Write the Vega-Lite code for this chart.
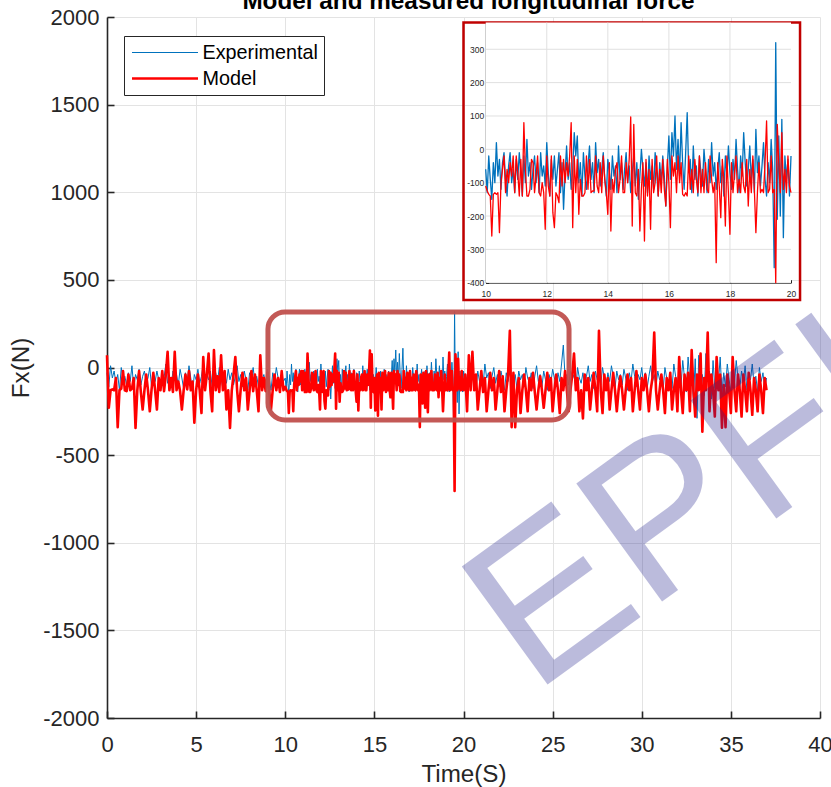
{
"$schema": "https://vega.github.io/schema/vega-lite/v6.json",
"width": 713, "height": 701,
"autosize": {"type": "none"},
"padding": {"left": 107, "top": 17, "right": 11, "bottom": 69},
"background": "white",
"title": {"text": "Model and measured longitudinal force", "fontSize": 24.3, "fontWeight": "bold", "font": "Liberation Sans", "color": "#000000", "anchor": "middle", "frame": "group", "baseline": "alphabetic", "offset": -1.3, "dx": 5, "dy": 25.5},
"config": {
  "view": {"stroke": null},
  "font": "Liberation Sans",
  "legend": {"orient": "none", "legendX": 17, "legendY": 19, "strokeColor": "#262626", "fillColor": "#ffffff", "padding": 6, "rowPadding": 4, "labelFontSize": 19.8, "labelColor": "#000000", "symbolType": "M-3.3,0H3.3", "symbolSize": 400, "symbolOffset": 23.5, "labelOffset": 26, "cornerRadius": 0}
},
"datasets": {
"force": [
{"t":0,"E":-30,"M":70},{"t":0.1,"E":-110,"M":-230},{"t":0.2,"E":10,"M":-130},{"t":0.3,"E":-60,"M":-125},{"t":0.4,"E":-20,"M":-130},{"t":0.5,"E":-90,"M":-60},{"t":0.6,"E":-40,"M":-340},{"t":0.7,"E":-130,"M":-130},{"t":0.8,"E":0,"M":-120},{"t":0.9,"E":-70,"M":-20},
{"t":1,"E":-50,"M":-130},{"t":1.1,"E":-100,"M":-135},{"t":1.2,"E":-30,"M":-40},{"t":1.3,"E":-80,"M":-130},{"t":1.4,"E":10,"M":-120},{"t":1.5,"E":-120,"M":-60},{"t":1.6,"E":-40,"M":-345},{"t":1.7,"E":-70,"M":-130},{"t":1.8,"E":-10,"M":-20},{"t":1.9,"E":-100,"M":-140},
{"t":2,"E":-50,"M":-240},{"t":2.1,"E":-20,"M":-130},{"t":2.2,"E":-90,"M":-40},{"t":2.3,"E":-60,"M":-130},{"t":2.4,"E":0,"M":-250},{"t":2.5,"E":-110,"M":-125},{"t":2.6,"E":-40,"M":-30},{"t":2.7,"E":-80,"M":-130},{"t":2.8,"E":-20,"M":-240},{"t":2.9,"E":-70,"M":-60},
{"t":3,"E":-130,"M":-130},{"t":3.1,"E":-30,"M":-20},{"t":3.2,"E":-60,"M":-135},{"t":3.3,"E":20,"M":-40},{"t":3.4,"E":-90,"M":90},{"t":3.5,"E":-50,"M":-130},{"t":3.6,"E":-110,"M":-60},{"t":3.7,"E":-20,"M":-140},{"t":3.8,"E":-70,"M":90},{"t":3.9,"E":-40,"M":-130},
{"t":4,"E":-100,"M":-80},{"t":4.1,"E":-10,"M":-135},{"t":4.2,"E":-60,"M":-240},{"t":4.3,"E":-120,"M":-130},{"t":4.4,"E":-30,"M":-40},{"t":4.5,"E":-80,"M":-125},{"t":4.6,"E":10,"M":-20},{"t":4.7,"E":-60,"M":-130},{"t":4.8,"E":-140,"M":-80},{"t":4.9,"E":-40,"M":-315},
{"t":5,"E":-70,"M":-130},{"t":5.1,"E":-10,"M":-40},{"t":5.2,"E":-90,"M":-130},{"t":5.3,"E":-50,"M":-260},{"t":5.4,"E":20,"M":60},{"t":5.5,"E":-100,"M":-130},{"t":5.6,"E":-40,"M":-40},{"t":5.7,"E":-70,"M":80},{"t":5.8,"E":-20,"M":-130},{"t":5.9,"E":-110,"M":-250},
{"t":6,"E":-60,"M":100},{"t":6.1,"E":-30,"M":-130},{"t":6.2,"E":-80,"M":-50},{"t":6.3,"E":0,"M":-140},{"t":6.4,"E":-60,"M":70},{"t":6.5,"E":-120,"M":-130},{"t":6.6,"E":-40,"M":-20},{"t":6.7,"E":-90,"M":-240},{"t":6.8,"E":-10,"M":-130},{"t":6.9,"E":-70,"M":-345},
{"t":7,"E":-30,"M":-130},{"t":7.1,"E":-100,"M":-40},{"t":7.2,"E":-50,"M":60},{"t":7.3,"E":10,"M":-130},{"t":7.4,"E":-80,"M":-250},{"t":7.5,"E":-40,"M":-125},{"t":7.6,"E":-110,"M":-30},{"t":7.7,"E":-20,"M":-130},{"t":7.8,"E":-70,"M":-60},{"t":7.9,"E":-130,"M":-240},
{"t":8,"E":-30,"M":-130},{"t":8.1,"E":-60,"M":-20},{"t":8.2,"E":0,"M":-135},{"t":8.3,"E":-90,"M":-40},{"t":8.4,"E":-50,"M":-130},{"t":8.5,"E":-110,"M":-250},{"t":8.6,"E":-20,"M":70},{"t":8.7,"E":-70,"M":-130},{"t":8.8,"E":-40,"M":-60},{"t":8.9,"E":-100,"M":-135},
{"t":9,"E":-10,"M":-30},{"t":9.1,"E":-60,"M":-130},{"t":9.2,"E":-130,"M":-240},{"t":9.3,"E":-30,"M":-125},{"t":9.4,"E":-80,"M":-40},{"t":9.5,"E":0,"M":-130},{"t":9.6,"E":-60,"M":-60},{"t":9.7,"E":-110,"M":-140},{"t":9.8,"E":-40,"M":-20},{"t":9.9,"E":-80,"M":-130},
{"t":10,"E":-60,"M":-110},{"t":10.05,"E":-130,"M":-125},{"t":10.1,"E":-20,"M":-135},{"t":10.15,"E":-90,"M":-140},{"t":10.2,"E":-150,"M":-260},{"t":10.25,"E":-40,"M":-135},{"t":10.3,"E":-100,"M":-130},{"t":10.35,"E":20,"M":-135},{"t":10.4,"E":-80,"M":-130},{"t":10.45,"E":-30,"M":-250},
{"t":10.5,"E":-120,"M":-100},{"t":10.55,"E":-40,"M":-60},{"t":10.6,"E":-10,"M":-20},{"t":10.65,"E":-90,"M":-130},{"t":10.7,"E":-140,"M":-60},{"t":10.75,"E":-50,"M":-100},{"t":10.8,"E":-10,"M":-40},{"t":10.85,"E":-100,"M":-80},{"t":10.9,"E":-60,"M":-20},{"t":10.95,"E":-130,"M":-130},
{"t":11,"E":-30,"M":-20},{"t":11.05,"E":-90,"M":-70},{"t":11.1,"E":-10,"M":-140},{"t":11.15,"E":-70,"M":-30},{"t":11.2,"E":-140,"M":-140},{"t":11.25,"E":-20,"M":80},{"t":11.3,"E":-100,"M":-60},{"t":11.35,"E":30,"M":-140},{"t":11.4,"E":-80,"M":-140},{"t":11.45,"E":-40,"M":-120},
{"t":11.5,"E":-120,"M":-30},{"t":11.55,"E":-60,"M":-40},{"t":11.6,"E":-20,"M":-130},{"t":11.65,"E":-100,"M":-80},{"t":11.7,"E":-40,"M":-20},{"t":11.75,"E":-130,"M":-130},{"t":11.8,"E":-10,"M":-140},{"t":11.85,"E":-80,"M":-100},{"t":11.9,"E":-50,"M":-130},{"t":11.95,"E":-110,"M":-240},
{"t":12,"E":20,"M":-20},{"t":12.05,"E":-70,"M":-110},{"t":12.1,"E":-140,"M":-140},{"t":12.15,"E":-30,"M":-20},{"t":12.2,"E":-90,"M":-190},{"t":12.25,"E":-20,"M":-235},{"t":12.3,"E":-110,"M":-130},{"t":12.35,"E":-60,"M":-140},{"t":12.4,"E":-10,"M":-160},{"t":12.45,"E":-130,"M":-20},
{"t":12.5,"E":-40,"M":-110},{"t":12.55,"E":-180,"M":-30},{"t":12.6,"E":-70,"M":-100},{"t":12.65,"E":10,"M":-40},{"t":12.7,"E":-90,"M":-80},{"t":12.75,"E":-40,"M":-20},{"t":12.8,"E":-120,"M":80},{"t":12.85,"E":-60,"M":-235},{"t":12.9,"E":50,"M":-20},{"t":12.95,"E":-20,"M":-130},
{"t":13,"E":40,"M":-30},{"t":13.05,"E":-100,"M":-195},{"t":13.1,"E":-40,"M":-90},{"t":13.15,"E":-140,"M":-140},{"t":13.2,"E":-10,"M":-140},{"t":13.25,"E":-80,"M":-130},{"t":13.3,"E":-120,"M":-20},{"t":13.35,"E":-50,"M":-120},{"t":13.4,"E":10,"M":-30},{"t":13.45,"E":-90,"M":-130},
{"t":13.5,"E":-40,"M":-125},{"t":13.55,"E":-130,"M":-125},{"t":13.6,"E":20,"M":-20},{"t":13.65,"E":-70,"M":-110},{"t":13.7,"E":-30,"M":-130},{"t":13.75,"E":-110,"M":-40},{"t":13.8,"E":-60,"M":-130},{"t":13.85,"E":-10,"M":-20},{"t":13.9,"E":-90,"M":-90},{"t":13.95,"E":-140,"M":-130},
{"t":14,"E":-30,"M":-195},{"t":14.05,"E":-70,"M":-40},{"t":14.1,"E":-120,"M":-245},{"t":14.15,"E":-20,"M":-90},{"t":14.2,"E":-80,"M":-130},{"t":14.25,"E":-50,"M":-60},{"t":14.3,"E":-130,"M":-40},{"t":14.35,"E":10,"M":-130},{"t":14.4,"E":-90,"M":-90},{"t":14.45,"E":-40,"M":-20},
{"t":14.5,"E":-120,"M":-130},{"t":14.55,"E":-60,"M":-130},{"t":14.6,"E":-10,"M":-40},{"t":14.65,"E":-100,"M":-100},{"t":14.7,"E":-50,"M":-30},{"t":14.75,"E":-130,"M":97},{"t":14.8,"E":-70,"M":-230},{"t":14.85,"E":-20,"M":75},{"t":14.9,"E":-110,"M":-130},{"t":14.95,"E":-40,"M":-140},
{"t":15,"E":-150,"M":-60},{"t":15.05,"E":-80,"M":-245},{"t":15.1,"E":0,"M":-120},{"t":15.15,"E":-60,"M":-40},{"t":15.2,"E":-110,"M":-275},{"t":15.25,"E":-40,"M":-30},{"t":15.3,"E":-130,"M":-140},{"t":15.35,"E":-20,"M":-60},{"t":15.4,"E":-90,"M":-240},{"t":15.45,"E":-50,"M":-30},
{"t":15.5,"E":-120,"M":-130},{"t":15.55,"E":-10,"M":-100},{"t":15.6,"E":-70,"M":-20},{"t":15.65,"E":-140,"M":-140},{"t":15.7,"E":-40,"M":-60},{"t":15.75,"E":-100,"M":-130},{"t":15.8,"E":-20,"M":-30},{"t":15.85,"E":-80,"M":-120},{"t":15.9,"E":-170,"M":-170},{"t":15.95,"E":-50,"M":-30},
{"t":16,"E":40,"M":-100},{"t":16.05,"E":-90,"M":-235},{"t":16.1,"E":50,"M":-20},{"t":16.15,"E":-20,"M":-80},{"t":16.2,"E":100,"M":-40},{"t":16.25,"E":-60,"M":-130},{"t":16.3,"E":30,"M":-20},{"t":16.35,"E":-80,"M":-100},{"t":16.4,"E":80,"M":-40},{"t":16.45,"E":-40,"M":-135},
{"t":16.5,"E":-120,"M":-140},{"t":16.55,"E":-10,"M":-130},{"t":16.6,"E":110,"M":-140},{"t":16.65,"E":-70,"M":-20},{"t":16.7,"E":-30,"M":-120},{"t":16.75,"E":-130,"M":-60},{"t":16.8,"E":10,"M":-130},{"t":16.85,"E":-90,"M":-30},{"t":16.9,"E":-50,"M":-90},{"t":16.95,"E":-140,"M":-130},
{"t":17,"E":-20,"M":-20},{"t":17.05,"E":-70,"M":-130},{"t":17.1,"E":-110,"M":-60},{"t":17.15,"E":0,"M":-130},{"t":17.2,"E":-60,"M":-40},{"t":17.25,"E":-130,"M":-120},{"t":17.3,"E":-30,"M":-130},{"t":17.35,"E":-100,"M":-20},{"t":17.4,"E":20,"M":-90},{"t":17.45,"E":-80,"M":-130},
{"t":17.5,"E":-40,"M":-100},{"t":17.55,"E":-120,"M":-340},{"t":17.6,"E":-60,"M":-40},{"t":17.65,"E":-10,"M":-110},{"t":17.7,"E":-100,"M":-205},{"t":17.75,"E":-50,"M":-30},{"t":17.8,"E":-140,"M":-90},{"t":17.85,"E":-20,"M":-230},{"t":17.9,"E":-80,"M":-20},{"t":17.95,"E":10,"M":-130},
{"t":18,"E":-70,"M":-255},{"t":18.05,"E":-120,"M":-40},{"t":18.1,"E":-30,"M":-130},{"t":18.15,"E":-90,"M":-70},{"t":18.2,"E":30,"M":-20},{"t":18.25,"E":-60,"M":-130},{"t":18.3,"E":-130,"M":-90},{"t":18.35,"E":-20,"M":-130},{"t":18.4,"E":-80,"M":-40},{"t":18.45,"E":50,"M":-110},
{"t":18.5,"E":-40,"M":-130},{"t":18.55,"E":-110,"M":-30},{"t":18.6,"E":-60,"M":-170},{"t":18.65,"E":10,"M":-60},{"t":18.7,"E":-90,"M":-130},{"t":18.75,"E":-30,"M":-20},{"t":18.8,"E":-130,"M":-120},{"t":18.85,"E":60,"M":-250},{"t":18.9,"E":-70,"M":-130},{"t":18.95,"E":-20,"M":-40},
{"t":19,"E":-110,"M":-130},{"t":19.05,"E":-50,"M":-120},{"t":19.1,"E":20,"M":-130},{"t":19.15,"E":-90,"M":-40},{"t":19.2,"E":-140,"M":85},{"t":19.25,"E":-40,"M":-130},{"t":19.3,"E":-100,"M":-120},{"t":19.35,"E":30,"M":-20},{"t":19.4,"E":-60,"M":-130},{"t":19.45,"E":-355,"M":-120},
{"t":19.5,"E":320,"M":-705},{"t":19.55,"E":-210,"M":75},{"t":19.6,"E":40,"M":-40},{"t":19.65,"E":-200,"M":-130},{"t":19.7,"E":90,"M":50},{"t":19.75,"E":-265,"M":-120},{"t":19.8,"E":-20,"M":-60},{"t":19.85,"E":-90,"M":-130},{"t":19.9,"E":-30,"M":-20},{"t":19.95,"E":-140,"M":-110},
{"t":20,"E":-20,"M":-130},{"t":20.1,"E":-90,"M":-40},{"t":20.2,"E":-50,"M":-250},{"t":20.3,"E":10,"M":70},{"t":20.4,"E":-110,"M":-130},{"t":20.5,"E":-40,"M":90},{"t":20.6,"E":-70,"M":-130},{"t":20.7,"E":-130,"M":-40},{"t":20.8,"E":-20,"M":-240},{"t":20.9,"E":-80,"M":-130},
{"t":21,"E":-40,"M":-20},{"t":21.1,"E":-100,"M":-140},{"t":21.2,"E":20,"M":-60},{"t":21.3,"E":-60,"M":-250},{"t":21.4,"E":-30,"M":-130},{"t":21.5,"E":-120,"M":-30},{"t":21.6,"E":-50,"M":-130},{"t":21.7,"E":0,"M":-60},{"t":21.8,"E":-90,"M":-240},{"t":21.9,"E":-40,"M":-130},
{"t":22,"E":-110,"M":-20},{"t":22.1,"E":-20,"M":-140},{"t":22.2,"E":-70,"M":-50},{"t":22.3,"E":-130,"M":-250},{"t":22.4,"E":-30,"M":-130},{"t":22.5,"E":-80,"M":-40},{"t":22.6,"E":10,"M":210},{"t":22.7,"E":-60,"M":-340},{"t":22.8,"E":-100,"M":-30},{"t":22.9,"E":-40,"M":-340},
{"t":23,"E":-120,"M":-130},{"t":23.1,"E":-20,"M":-60},{"t":23.2,"E":-70,"M":-260},{"t":23.3,"E":-40,"M":-130},{"t":23.4,"E":-110,"M":-40},{"t":23.5,"E":0,"M":-130},{"t":23.6,"E":-60,"M":-250},{"t":23.7,"E":-90,"M":-60},{"t":23.8,"E":-30,"M":-130},{"t":23.9,"E":-120,"M":-30},
{"t":24,"E":-50,"M":-140},{"t":24.1,"E":10,"M":-240},{"t":24.2,"E":-80,"M":-130},{"t":24.3,"E":-40,"M":-50},{"t":24.4,"E":-110,"M":-130},{"t":24.5,"E":-20,"M":-230},{"t":24.6,"E":-70,"M":-130},{"t":24.7,"E":-130,"M":-30},{"t":24.8,"E":-40,"M":-130},{"t":24.9,"E":-90,"M":-60},
{"t":25,"E":-10,"M":-250},{"t":25.1,"E":-60,"M":-130},{"t":25.2,"E":-110,"M":-40},{"t":25.3,"E":-30,"M":-130},{"t":25.4,"E":-80,"M":-260},{"t":25.5,"E":20,"M":-60},{"t":25.6,"E":128,"M":-130},{"t":25.7,"E":-60,"M":-20},{"t":25.8,"E":-40,"M":-130},{"t":25.9,"E":-100,"M":-250},
{"t":26,"E":-20,"M":-130},{"t":26.1,"E":-70,"M":-40},{"t":26.2,"E":-40,"M":80},{"t":26.3,"E":-120,"M":-130},{"t":26.4,"E":0,"M":-60},{"t":26.5,"E":-60,"M":-250},{"t":26.6,"E":-90,"M":-130},{"t":26.7,"E":-30,"M":-290},{"t":26.8,"E":-110,"M":-40},{"t":26.9,"E":-50,"M":-130},
{"t":27,"E":10,"M":-60},{"t":27.1,"E":-80,"M":-240},{"t":27.2,"E":-40,"M":-130},{"t":27.3,"E":-120,"M":-30},{"t":27.4,"E":-20,"M":-130},{"t":27.5,"E":-70,"M":-250},{"t":27.6,"E":-40,"M":210},{"t":27.7,"E":-100,"M":-130},{"t":27.8,"E":0,"M":-260},{"t":27.9,"E":-60,"M":-40},
{"t":28,"E":-110,"M":-130},{"t":28.1,"E":-30,"M":-60},{"t":28.2,"E":-80,"M":-240},{"t":28.3,"E":10,"M":-130},{"t":28.4,"E":-50,"M":-30},{"t":28.5,"E":-120,"M":-130},{"t":28.6,"E":-20,"M":-250},{"t":28.7,"E":-70,"M":-130},{"t":28.8,"E":-40,"M":-50},{"t":28.9,"E":-100,"M":-130},
{"t":29,"E":-10,"M":-240},{"t":29.1,"E":-60,"M":-130},{"t":29.2,"E":-130,"M":-40},{"t":29.3,"E":-30,"M":-130},{"t":29.4,"E":-80,"M":-60},{"t":29.5,"E":20,"M":-250},{"t":29.6,"E":-50,"M":-130},{"t":29.7,"E":-110,"M":-20},{"t":29.8,"E":-40,"M":-130},{"t":29.9,"E":-70,"M":-240},
{"t":30,"E":0,"M":-60},{"t":30.1,"E":-100,"M":-130},{"t":30.2,"E":-30,"M":-40},{"t":30.3,"E":-120,"M":-130},{"t":30.4,"E":-50,"M":-250},{"t":30.5,"E":10,"M":-130},{"t":30.6,"E":-80,"M":-60},{"t":30.7,"E":-40,"M":200},{"t":30.8,"E":-110,"M":-130},{"t":30.9,"E":-20,"M":-240},
{"t":31,"E":-70,"M":-130},{"t":31.1,"E":-40,"M":-40},{"t":31.2,"E":-130,"M":-130},{"t":31.3,"E":0,"M":-260},{"t":31.4,"E":-60,"M":-60},{"t":31.5,"E":-100,"M":-130},{"t":31.6,"E":-30,"M":-30},{"t":31.7,"E":-120,"M":-240},{"t":31.8,"E":20,"M":-130},{"t":31.9,"E":-50,"M":-60},
{"t":32,"E":-90,"M":-250},{"t":32.1,"E":-20,"M":60},{"t":32.2,"E":-110,"M":-130},{"t":32.3,"E":40,"M":-260},{"t":32.4,"E":-60,"M":-40},{"t":32.5,"E":-140,"M":-130},{"t":32.6,"E":60,"M":-30},{"t":32.7,"E":-80,"M":-250},{"t":32.8,"E":-30,"M":100},{"t":32.9,"E":-190,"M":-130},
{"t":33,"E":50,"M":-280},{"t":33.1,"E":-290,"M":-40},{"t":33.2,"E":70,"M":-130},{"t":33.3,"E":-100,"M":80},{"t":33.4,"E":-40,"M":-366},{"t":33.5,"E":-160,"M":-60},{"t":33.6,"E":80,"M":-130},{"t":33.7,"E":-70,"M":200},{"t":33.8,"E":-20,"M":-250},{"t":33.9,"E":-180,"M":-40},
{"t":34,"E":40,"M":-130},{"t":34.1,"E":-120,"M":-280},{"t":34.2,"E":10,"M":60},{"t":34.3,"E":-90,"M":-130},{"t":34.4,"E":60,"M":-40},{"t":34.5,"E":-150,"M":-343},{"t":34.6,"E":-30,"M":-100},{"t":34.7,"E":-110,"M":-340},{"t":34.8,"E":20,"M":-40},{"t":34.9,"E":-70,"M":-130},
{"t":35,"E":-140,"M":-260},{"t":35.1,"E":-30,"M":60},{"t":35.2,"E":-90,"M":-130},{"t":35.3,"E":40,"M":-250},{"t":35.4,"E":-60,"M":-40},{"t":35.5,"E":-120,"M":-130},{"t":35.6,"E":-20,"M":-280},{"t":35.7,"E":-80,"M":-40},{"t":35.8,"E":10,"M":-130},{"t":35.9,"E":-130,"M":-250},
{"t":36,"E":-40,"M":-30},{"t":36.1,"E":-70,"M":-130},{"t":36.2,"E":20,"M":-270},{"t":36.3,"E":-100,"M":-60},{"t":36.4,"E":-50,"M":-130},{"t":36.5,"E":-140,"M":-250},{"t":36.6,"E":0,"M":-40},{"t":36.7,"E":-80,"M":-130},{"t":36.8,"E":-30,"M":-260},{"t":36.9,"E":-120,"M":-60},
{"t":37,"E":-60,"M":-130}
]
},
"layer": [
  {
    "layer": [
      {
        "data": {"name": "force"},
        "transform": [{"fold": ["E", "M"], "as": ["series", "value"]}],
        "mark": {"type": "line", "strokeJoin": "round"},
        "encoding": {
          "x": {"field": "t", "type": "quantitative", "scale": {"domain": [0, 40], "nice": false, "zero": false},
                "axis": {"title": "Time(S)", "values": [0,5,10,15,20,25,30,35,40], "labelExpr": "format(datum.value, 'd')", "grid": true, "gridColor": "#e3e3e3", "gridWidth": 1, "domainColor": "#262626", "domainWidth": 1.6, "tickColor": "#262626", "tickWidth": 1.6, "tickSize": -7, "labelPadding": 23, "labelFontSize": 22, "labelColor": "#262626", "labelFont": "Liberation Sans", "titleFontSize": 24.2, "titleFontWeight": "normal", "titleColor": "#262626", "titlePadding": 7, "titleFont": "Liberation Sans", "labelFlush": false}},
          "y": {"field": "value", "type": "quantitative", "scale": {"domain": [-2000, 2000], "nice": false, "zero": false},
                "axis": {"title": "Fx(N)", "values": [-2000,-1500,-1000,-500,0,500,1000,1500,2000], "labelExpr": "datum.value < 0 ? '-' + format(-datum.value, 'd') : format(datum.value, 'd')", "grid": true, "gridColor": "#e3e3e3", "gridWidth": 1, "domainColor": "#262626", "domainWidth": 1.6, "tickColor": "#262626", "tickWidth": 1.6, "tickSize": -7, "labelPadding": 15, "labelFontSize": 22, "labelColor": "#262626", "labelFont": "Liberation Sans", "titleFontSize": 24.2, "titleFontWeight": "normal", "titleColor": "#262626", "titlePadding": 9, "titleFont": "Liberation Sans", "labelFlush": false}},
          "color": {"field": "series", "type": "nominal", "scale": {"domain": ["E", "M"], "range": ["#0072BD", "#FF0000"]},
                    "legend": {"title": null, "labelExpr": "datum.label == 'E' ? 'Experimental' : 'Model'"}},
          "strokeWidth": {"field": "series", "type": "nominal", "scale": {"domain": ["E", "M"], "range": [1, 2.6]},
                    "legend": {"title": null, "labelExpr": "datum.label == 'E' ? 'Experimental' : 'Model'"}}
        }
      },
      {
        "data": {"values": [{}]},
        "mark": {"type": "rect", "filled": false, "stroke": "#C0504D", "strokeWidth": 5, "cornerRadius": 17, "strokeOpacity": 0.95},
        "encoding": {
          "x": {"datum": 9.03, "type": "quantitative"},
          "x2": {"datum": 25.92},
          "y": {"datum": -300, "type": "quantitative"},
          "y2": {"datum": 317}
        }
      },
      {
        "data": {"values": [{}]},
        "mark": {"type": "rect", "filled": false, "stroke": "#C00000", "strokeWidth": 2.5},
        "encoding": {
          "x": {"datum": 20.0, "type": "quantitative"},
          "x2": {"datum": 38.88},
          "y": {"datum": 385, "type": "quantitative"},
          "y2": {"datum": 1969}
        }
      },
      {
        "data": {"values": [{}]},
        "mark": {"type": "text", "text": "EPFL", "font": "Liberation Sans", "fontSize": 212, "angle": -36, "align": "left", "baseline": "alphabetic", "color": "#23238E", "opacity": 0.3},
        "encoding": {
          "x": {"datum": 23.93, "type": "quantitative"},
          "y": {"datum": -1868, "type": "quantitative"}
        }
      }
    ]
  },
  {
    "layer": [
      {
        "data": {"values": [{}]},
        "mark": {"type": "rect", "fill": "#ffffff", "stroke": null},
        "encoding": {
          "x": {"datum": 10, "type": "quantitative", "scale": {"domain": [10, 20], "range": [378.7, 684], "nice": false, "zero": false},
                "axis": {"orient": "bottom", "offset": -435.3, "title": null, "values": [10,12,14,16,18,20], "labelExpr": "format(datum.value, 'd')", "grid": false, "domainColor": "#262626", "domainWidth": 1, "tickColor": "#262626", "tickWidth": 1, "tickSize": -3, "labelPadding": 9.5, "labelFontSize": 8.5, "labelColor": "#262626", "labelFlush": false}},
          "x2": {"datum": 20},
          "y": {"datum": -400, "type": "quantitative", "scale": {"domain": [-400, 380], "range": [265.7, 5.6], "nice": false, "zero": false, "clamp": true},
                "axis": {"orient": "left", "offset": -378.7, "title": null, "values": [-400,-300,-200,-100,0,100,200,300], "labelExpr": "datum.value < 0 ? '-' + format(-datum.value, 'd') : format(datum.value, 'd')", "grid": false, "domainColor": "#262626", "domainWidth": 1, "tickColor": "#262626", "tickWidth": 1, "tickSize": -3, "labelPadding": 5, "labelFontSize": 8.5, "labelColor": "#262626", "labelFlush": false}},
          "y2": {"datum": 380}
        }
      },
      {
        "data": {"values": [{"t": 12}, {"t": 14}, {"t": 16}, {"t": 18}]},
        "mark": {"type": "rule", "color": "#e0e0e0", "strokeWidth": 1},
        "encoding": {
          "x": {"field": "t", "type": "quantitative"},
          "y": {"datum": -400, "type": "quantitative"},
          "y2": {"datum": 380}
        }
      },
      {
        "data": {"values": [{"v": -300}, {"v": -200}, {"v": -100}, {"v": 0}, {"v": 100}, {"v": 200}, {"v": 300}]},
        "mark": {"type": "rule", "color": "#e0e0e0", "strokeWidth": 1},
        "encoding": {
          "y": {"field": "v", "type": "quantitative"},
          "x": {"datum": 10, "type": "quantitative"},
          "x2": {"datum": 20}
        }
      },
      {
        "data": {"name": "force"},
        "transform": [{"filter": "datum.t >= 10 && datum.t <= 20"}, {"fold": ["E", "M"], "as": ["series", "value"]}],
        "mark": {"type": "line", "strokeWidth": 1.3, "strokeJoin": "round"},
        "encoding": {
          "x": {"field": "t", "type": "quantitative"},
          "y": {"field": "value", "type": "quantitative"},
          "color": {"field": "series", "type": "nominal", "legend": null}
        }
      }
    ]
  }
],
"resolve": {"scale": {"x": "independent", "y": "independent"}, "axis": {"x": "independent", "y": "independent"}}
}
